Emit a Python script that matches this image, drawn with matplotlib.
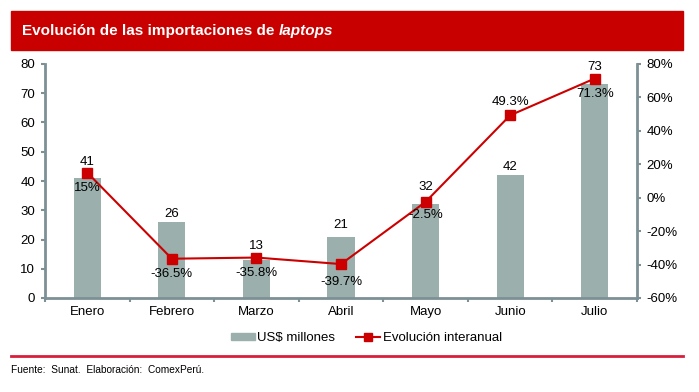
import matplotlib.pyplot as plt
from matplotlib.patches import Rectangle
from matplotlib.lines import Line2D
import numpy as np

plt.rcParams['font.family'] = ['Liberation Sans', 'DejaVu Sans']

# Data
meses = ['Enero', 'Febrero', 'Marzo', 'Abril', 'Mayo', 'Junio', 'Julio']
importaciones = [41, 26, 13, 21, 32, 42, 73]          # US$ millones
variacion = [15, -36.5, -35.8, -39.7, -2.5, 49.3, 71.3]  # %
var_labels = ['15%', '-36.5%', '-35.8%', '-39.7%', '-2.5%', '49.3%', '71.3%']

axis_col = '#7d9096'
bar_col = '#9bb0ac'
red = '#cc0000'

fig = plt.figure(figsize=(6.99, 3.92), dpi=100)

# title banner
fig.patches.append(Rectangle((11 / 699, 1 - 50 / 392), 672 / 699, 39 / 392,
                             transform=fig.transFigure, color='#c80000', zorder=0))
t1 = fig.text(22 / 699, 1 - 31 / 392, 'Evolución de las importaciones de',
              color='white', fontsize=11, fontweight='bold', va='center')
renderer = fig.canvas.get_renderer()
bb = t1.get_window_extent(renderer)
fig.text((bb.x1 + 4) / 699, 1 - 31 / 392, 'laptops', color='white', fontsize=11,
         fontweight='bold', style='italic', va='center')

ax = fig.add_axes([45 / 699, 1 - 298 / 392, 592 / 699, 234 / 392])
ax2 = ax.twinx()

x = np.arange(len(meses))
ax.bar(x, importaciones, width=0.32, color=bar_col, zorder=2)
ax2.plot(x, variacion, color=red, lw=1.5, marker='s', markersize=7, zorder=3)

ax.set_xlim(-0.5, len(meses) - 0.5)
ax.set_ylim(0, 80)
ax.set_yticks(range(0, 81, 10))
ax2.set_ylim(-60, 80)
ax2.set_yticks(range(-60, 81, 20))
ax2.set_yticklabels([f'{v}%' for v in range(-60, 81, 20)])

ax.set_xticks(np.arange(-0.5, len(meses), 1))
ax.set_xticklabels([])
ax.set_xticks(x, minor=True)
ax.set_xticklabels(meses, minor=True)
ax.tick_params(axis='x', which='minor', length=0, pad=6, labelsize=9.5)
ax.tick_params(axis='x', which='major', length=3, width=1.5, color=axis_col)
ax.tick_params(axis='y', length=3, width=1.5, color=axis_col, labelsize=9.5, pad=4)
ax2.tick_params(axis='y', length=3, width=1.5, color=axis_col, labelsize=9.5, pad=4)

for a in (ax, ax2):
    for s in a.spines.values():
        s.set_visible(False)
    for side in ('left', 'bottom', 'right'):
        a.spines[side].set_color(axis_col)
        a.spines[side].set_linewidth(2)
ax.spines['left'].set_visible(True)
ax.spines['bottom'].set_visible(True)
ax2.spines['right'].set_visible(True)

# bar value labels (offsets in points above the bar top)
bar_offsets = [7, 1.5, 6, 4, 8, 1.5, 8.5]
for xi, v, off in zip(x, importaciones, bar_offsets):
    ax.annotate(str(v), (xi, v), xytext=(0, off), textcoords='offset points',
                ha='center', va='bottom', fontsize=9.5)

# percent labels (offsets in points from the marker)
pct_offsets = [-7, -7, -7, -8.5, -5, 5.5, -7]
for xi, v, lab, off in zip(x, variacion, var_labels, pct_offsets):
    ax2.annotate(lab, (xi, v), xytext=(0, off), textcoords='offset points',
                 ha='center', va='bottom' if off > 0 else 'top', fontsize=9.5)

handles = [Rectangle((0, 0), 1, 1, color=bar_col),
           Line2D([], [], color=red, lw=1.5, marker='s', markersize=6)]
fig.legend(handles, ['US$ millones', 'Evolución interanual'], ncol=2,
           loc='center', bbox_to_anchor=(0.524, 1 - 338 / 392), frameon=False,
           fontsize=9.5, handlelength=1.8, handleheight=0.5, handletextpad=0.2,
           columnspacing=1.6)

fig.add_artist(Line2D([11 / 699, 683 / 699], [1 - 356 / 392, 1 - 356 / 392],
                      transform=fig.transFigure, color='#d81e3c', lw=2))
fig.text(11 / 699, 1 - 370 / 392, 'Fuente:  Sunat.  Elaboración:  ComexPerú.',
         fontsize=7.3, va='center')

fig.savefig('out.png', dpi=100)
